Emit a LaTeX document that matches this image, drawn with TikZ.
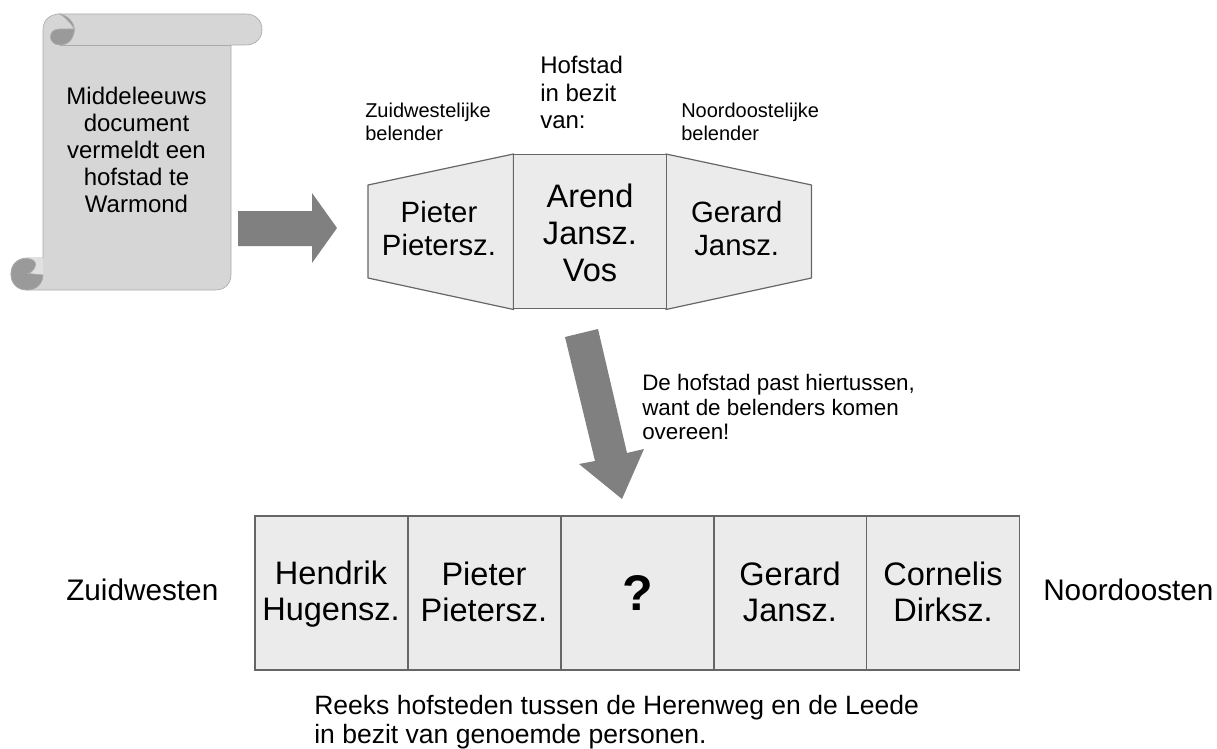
\documentclass[tikz,border=0pt]{standalone}
\usepackage{fontspec}
\setmainfont{Liberation Sans}
\newcommand{\fside}{\fontsize{22}{24.8}\selectfont}
\newcommand{\fcent}{\fontsize{24.4}{27.5}\selectfont}
\newcommand{\frow}{\fontsize{24.4}{27}\selectfont}
\newcommand{\fmid}{\fontsize{18}{20.4}\selectfont}
\newcommand{\fwide}{\fontsize{22.3}{25}\selectfont}
\newcommand{\fcap}{\fontsize{19.9}{22.3}\selectfont}
\newcommand{\fsma}{\fontsize{15}{16.8}\selectfont}
\newcommand{\fwhy}{\fontsize{16.8}{18.4}\selectfont}
\newcommand{\tstr}{\rule[-0.2em]{0pt}{0.9em}}
\definecolor{scrollfill}{HTML}{D6D6D6}
\definecolor{scrolldark}{HTML}{9A9A9A}
\definecolor{boxfill}{HTML}{EBEBEB}
\definecolor{arrowfill}{HTML}{808080}
\definecolor{edge}{HTML}{666666}
\tikzset{
  x=0.75pt,y=-0.75pt,
  cell/.style={draw=edge,fill=boxfill,line width=0.9pt,minimum width=114.75pt,minimum height=115.5pt,inner sep=0pt,align=center,font=\frow},
  rowtext/.style={inner sep=0pt,align=center,font=\frow},
  sidecell/.style={draw=edge,fill=boxfill,line width=0.9pt,line join=round},
  label/.style={inner sep=0pt,align=center,font=\fside},
  note/.style={inner sep=0pt,align=left,font=\fsma},
  blockarrow/.style={fill=arrowfill,draw=none},
  scrollbody/.style={fill=scrollfill,draw=scrollfill!80!black,line width=0.5pt},
  curl/.style={fill=scrolldark,draw=scrollfill!80!black,line width=0.5pt},
}
\begin{document}
\begin{tikzpicture}
\useasboundingbox (0,0) rectangle (1217,749);
% scroll
\draw[scrollbody] (43,30) .. controls (43,20) and (50,14) .. (60,14) -- (246,14)
  .. controls (256,14) and (262,21) .. (262,29.5) .. controls (262,38) and (256,45) .. (246,45)
  -- (231,45) -- (231,274) .. controls (231,284) and (225,290) .. (215,290) -- (27,290)
  .. controls (17,290) and (11,283) .. (11,274) .. controls (11,265) and (17,258) .. (27,258) -- (43,258) -- cycle;
\fill[white!88!black] (27,258) -- (43,258) -- (43,275) -- (28,274) -- cycle;
\draw[curl] (27,258.5) .. controls (33,258.5) and (36,262) .. (35.5,265) .. controls (35,269) and (31,273) .. (28,273.5)
  -- (43,275) .. controls (43,283) and (37,290) .. (27,290)
  .. controls (17,290) and (11,283) .. (11,274) .. controls (11,265) and (17,258.5) .. (27,258.5) -- cycle;
\draw[curl] (60,14) .. controls (68,16) and (74,22) .. (74.5,29) .. controls (70,22) and (65,17) .. (60,14) -- cycle;
\draw[curl] (74.5,29) .. controls (74,38) and (69,45) .. (60,45)
  .. controls (54,45) and (50.5,41) .. (50.5,37) .. controls (50.5,32) and (54,29) .. (60,29) -- cycle;
\draw[scrollfill!80!black,line width=0.5pt] (60,45) -- (231,45);
\node[label,font=\fmid] (doc) at (136.5,150) {Middeleeuws\\document\\vermeldt een\\hofstad te\\Warmond};
\fill[blockarrow] (238,211) -- (312,211) -- (312,193) -- (337,228) -- (312,263) -- (312,246) -- (238,246) -- cycle;
% hexagon
\draw[sidecell] (513.5,154) -- (368,185) -- (368,278) -- (513.5,309.5) -- cycle;
\draw[sidecell] (666,154) -- (811.5,185) -- (811.5,278) -- (666,309.5) -- cycle;
\node[cell] (mid) at (589.75,231.75) {};
\node[label,font=\fcent] (arend) at (590,236) {\tstr Arend\\Jansz.\\Vos\tstr};
\node[label] (pp) at (439,231.7) {\tstr Pieter\\Pietersz.\tstr};
\node[label] (gj) at (736.7,231.7) {\tstr Gerard\\Jansz.\tstr};
\node[note,anchor=west] (zw) at (365,122) {Zuidwestelijke\\belender};
\node[note,anchor=west] (no) at (681,122) {Noordoostelijke\\belender};
\node[label,font=\fmid,align=left,anchor=west] (hof) at (540,92.5) {Hofstad\\in bezit\\van:};
% arrow down
\fill[blockarrow] (565,337) -- (598,329) -- (627,453) -- (644,449) -- (622,499) -- (579,464) -- (595,461) -- cycle;
\node[note,font=\fwhy,anchor=west] (why) at (642,409.5) {\tstr De hofstad past hiertussen,\\want de belenders komen\\overeen!\tstr};
% row
\node[cell] (c1) at (331.5,593) {};
\node[cell] (c2) at (484.5,593) {};
\node[cell,font=\fontsize{37.6}{40}\selectfont\bfseries] (c3) at (637.5,593) {?};
\node[cell] (c4) at (790.5,593) {};
\node[cell] (c5) at (943,593) {};
\node[rowtext] (t1) at (331,594.5) {\tstr Hendrik\\Hugensz.\tstr};
\node[rowtext] (t2) at (484,594.5) {\tstr Pieter\\Pietersz.\tstr};
\node[rowtext] (t4) at (790,594.5) {\tstr Gerard\\Jansz.\tstr};
\node[rowtext] (t5) at (943,594.5) {\tstr Cornelis\\Dirksz.\tstr};
\node[inner sep=0pt,font=\fwide,anchor=west] (zwl) at (66,590) {Zuidwesten};
\node[inner sep=0pt,font=\fwide,anchor=west] (nol) at (1043,590) {Noordoosten};
\node[inner sep=0pt,font=\fcap,align=left,anchor=west] (cap) at (314,722) {\tstr Reeks hofsteden tussen de Herenweg en de Leede\\in bezit van genoemde personen.\tstr};
\end{tikzpicture}
\end{document}
